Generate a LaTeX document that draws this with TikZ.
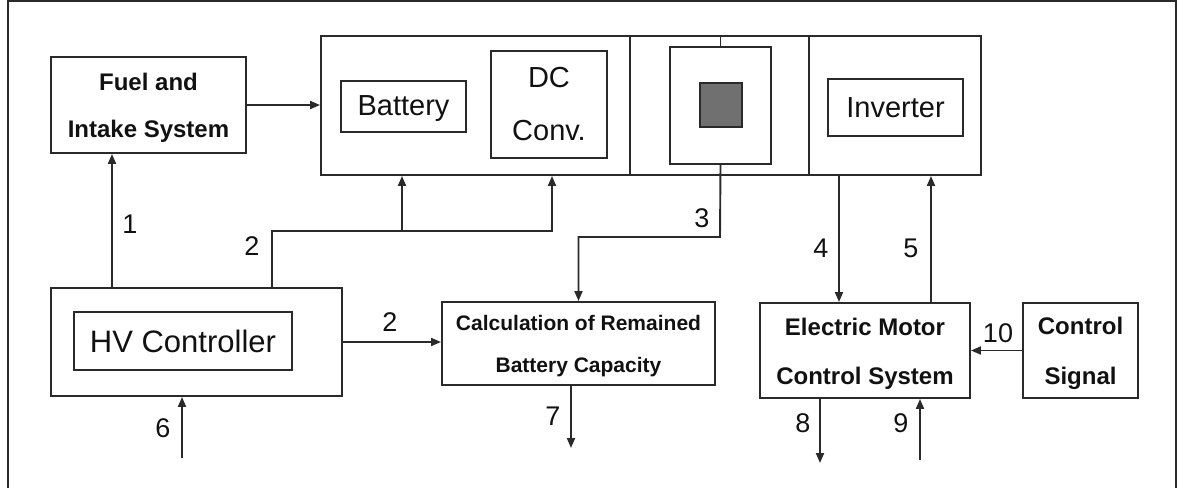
\documentclass[tikz,border=0pt]{standalone}
\usepackage{fontspec}
\setmainfont{Liberation Sans}
\usetikzlibrary{arrows.meta}
\definecolor{linec}{HTML}{2A2A2A}
\definecolor{inkc}{HTML}{111111}
\definecolor{corec}{HTML}{707070}
\begin{document}
\begin{tikzpicture}[x=1pt,y=-1pt,
  box/.style={draw=linec,line width=1.9pt,rectangle,inner sep=0pt,align=center,text=inkc},
  txt/.style={inner sep=0pt,align=center,text=inkc},
  wire/.style={draw=linec,line width=1.9pt},
  arr/.style={wire,-{Triangle[length=10pt,width=8pt]}},
  num/.style={text=inkc,inner sep=0pt,font=\fontsize{27}{30}\selectfont},
  plaintxt/.style={font=\fontsize{29}{32}\selectfont}]
\useasboundingbox (0,0) rectangle (1179,488);

% outer frame (open at the bottom)
\draw[wire] (8,488) -- (8,1) -- (1176,1) -- (1176,488);

% fuel system
\node[box,minimum width=195pt,minimum height=96pt] (fuel) at (148.5,105) {};
\node[txt,font=\bfseries\fontsize{24}{47}\selectfont] (fuelt) at ([yshift=-3pt]fuel.center) {Fuel and\\Intake System};

% power unit: three adjoining sections
\node[box,minimum width=309pt,minimum height=139pt] (sec1) at (475.5,105.5) {};
\node[box,minimum width=179pt,minimum height=139pt] (sec2) at (719.5,105.5) {};
\node[box,minimum width=172pt,minimum height=139pt] (sec3) at (895,105.5) {};
\node[box,plaintxt,minimum width=125pt,minimum height=51pt] (bat) at (403.5,106.5) {};
\node[txt,plaintxt] (batt) at ([yshift=-2pt]bat.center) {Battery};
\node[box,plaintxt,font=\fontsize{29}{53}\selectfont,minimum width=116pt,minimum height=107pt] (dcc) at (549,104.5) {DC\\Conv.};
\node[box,minimum width=101pt,minimum height=117pt] (sq) at (720.5,105.5) {};
\node[box,fill=corec,minimum width=42pt,minimum height=44pt] (core) at (721,105) {};
\node[box,plaintxt,minimum width=135pt,minimum height=57pt] (inv) at (895.5,107.5) {Inverter};

% controllers
\node[box,minimum width=291pt,minimum height=108pt] (hv) at (196.5,342) {};
\node[box,font=\fontsize{31}{34}\selectfont,minimum width=218pt,minimum height=58pt] (hvin) at (183,341) {HV Controller};
\node[box,minimum width=273pt,minimum height=83pt] (calc) at (578.5,343.5) {};
\node[txt,font=\bfseries\fontsize{21}{42}\selectfont] (calct) at ([yshift=-3pt]calc.center) {Calculation of Remained\\Battery Capacity};
\node[box,minimum width=210pt,minimum height=95pt] (emcs) at (865,350.5) {};
\node[txt,font=\bfseries\fontsize{24}{49}\selectfont] (emcst) at ([yshift=-3pt]emcs.center) {Electric Motor\\Control System};
\node[box,minimum width=115pt,minimum height=95pt] (csig) at (1080.5,350.5) {};
\node[txt,font=\bfseries\fontsize{24}{50}\selectfont] (csigt) at ([yshift=-3pt]csig.center) {Control\\Signal};

% routing points
\coordinate (c1) at (112,0);
\coordinate (j2) at (272,231);
\coordinate (bx) at (402,231);
\coordinate (dx) at (552,231);
\coordinate (t3) at (720,237);
\coordinate (c4) at (839,0);
\coordinate (c5) at (931,0);
\coordinate (e6) at (182,458);
\coordinate (e7) at (571,448);
\coordinate (e8) at (820,463);
\coordinate (e9) at (920,460);

% connectors
\draw[arr] (fuel.east) -- (fuel.east -| sec1.west);
\draw[arr] (hv.north -| c1) -- (fuel.south -| c1);
\draw[arr] (hv.north -| j2) -- (j2) -- (dx) -- (sec1.south -| dx);
\draw[arr] (bx) -- (sec1.south -| bx);
\draw[wire] (sec2.north -| sq.north) -- (sq.north);
\draw[arr] (sq.south) -- (t3) -| (calc.north);
\draw[arr] (sec3.south -| c4) -- (emcs.north -| c4);
\draw[arr] (emcs.north -| c5) -- (sec3.south -| c5);
\draw[arr] (e6) -- (e6 |- hv.south);
\draw[arr] (hv.east) -- (hv.east -| calc.west);
\draw[arr] (calc.south -| e7) -- (e7);
\draw[arr] (emcs.south -| e8) -- (e8);
\draw[arr] (e9) -- (e9 |- emcs.south);
\draw[arr] (csig.west) -- (emcs.east);

% signal numbers
\node[num] (l1) at (130,224) {1};
\node[num] (l2a) at (252,246) {2};
\node[num] (l2b) at (390,322) {2};
\node[num] (l3) at (702,218) {3};
\node[num] (l4) at (821,248) {4};
\node[num] (l5) at (911,248) {5};
\node[num] (l6) at (163,428) {6};
\node[num] (l7) at (553,416) {7};
\node[num] (l8) at (803,423) {8};
\node[num] (l9) at (901,423) {9};
\node[num] (l10) at (998,333) {10};
\end{tikzpicture}
\end{document}
